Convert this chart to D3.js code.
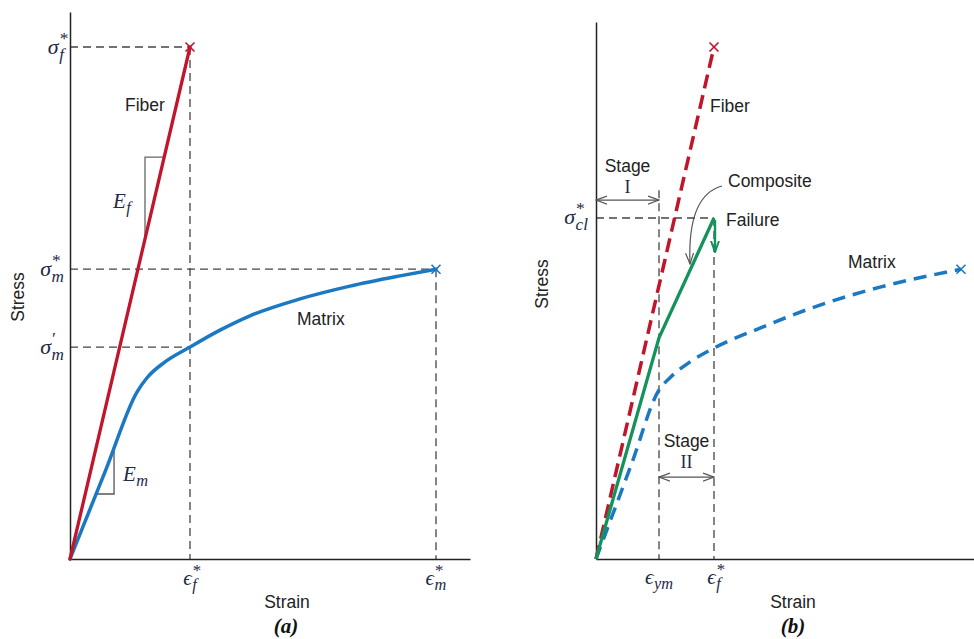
<!DOCTYPE html>
<html><head><meta charset="utf-8">
<script src="https://cdn.jsdelivr.net/npm/d3@7"></script>
<style>
body{margin:0;background:#fff;}
svg{display:block;}
.sans{font-family:"Liberation Sans",Arial,sans-serif;fill:#222;}
.math{font-family:"Liberation Serif","DejaVu Serif",serif;font-style:italic;fill:#1e2a48;}
</style></head>
<body>
<svg id="c" width="974" height="639"></svg>
<script>
// ---------- data (strain in units of eps_f*, stress in units of sigma_f*) ----------
const fiberA = [[0,0],[1,1]];
const matrixA = [[0,0],[0.3,0.175],[0.558,0.326],[0.642,0.354],[0.792,0.385],[1.0,0.414],[1.25,0.447],[1.5,0.475],[1.917,0.508],[2.333,0.533],[2.75,0.553],[3.05,0.566]];
const stressTicksA = [{v:1.0,base:"σ",sub:"f",sup:"*"},{v:0.566,base:"σ",sub:"m",sup:"*"},{v:0.414,base:"σ",sub:"m",sup:"′"}];
const strainTicksA = [{v:1.0,base:"ϵ",sub:"f",sup:"*"},{v:3.05,base:"ϵ",sub:"m",sup:"*"}];
const slopeTriF = {strain:0.625, stress:0.785};
const slopeTriM = {strain:0.367, stress:0.127};

const fiberB = [[0,0],[1,1]];
const matrixB = [[0,0],[0.3,0.185],[0.534,0.330],[0.627,0.354],[0.797,0.385],[1.0,0.412],[1.39,0.451],[1.898,0.496],[2.407,0.531],[3.093,0.566]];
const compositeB = [[0,0],[0.534,0.432],[1.0,0.666]];
const stressTicksB = [{v:0.666,base:"σ",sub:"cl",sup:"*"}];
const strainTicksB = [{v:0.534,base:"ϵ",sub:"ym",sup:""},{v:1.0,base:"ϵ",sub:"f",sup:"*"}];
const stageI = {from:0, to:0.534, stress:0.701, top:0.72};
const stageII = {from:0.534, to:1.0, stress:0.16};

// ---------- scales ----------
const y = d3.scaleLinear().domain([0,1]).range([559,47]);
const xA = d3.scaleLinear().domain([0,1]).range([70,190]);
const xB = d3.scaleLinear().domain([0,1]).range([596,714]);

const svg = d3.select("#c");
const RED="#c0152a", BLUE="#1b78c2", GREEN="#14925c", GUIDE="#444";

const defs = svg.append("defs");
function chevron(id,color,w){
  defs.append("marker").attr("id",id).attr("viewBox","0 0 12 10").attr("refX",11).attr("refY",5)
   .attr("markerWidth",12).attr("markerHeight",10).attr("markerUnits","userSpaceOnUse").attr("orient","auto-start-reverse")
   .append("path").attr("d","M0,1 L11,5 L0,9").attr("fill","none").attr("stroke",color).attr("stroke-width",w);
}
chevron("arrG","#555",1.2);
chevron("arrGreen",GREEN,2);

function guide(x1,y1,x2,y2){
  svg.append("line").attr("x1",x1).attr("y1",y1).attr("x2",x2).attr("y2",y2)
    .attr("stroke",GUIDE).attr("stroke-width",1.3).attr("stroke-dasharray","8,5");
}
function xmark(px,py,color){
  const s=4.5;
  svg.append("path").attr("d",`M${px-s},${py-s}L${px+s},${py+s}M${px-s},${py+s}L${px+s},${py-s}`)
    .attr("stroke",color).attr("stroke-width",1.6).attr("fill","none");
}
// one text element per label: base + subscript + superscript (placed above the subscript)
function mathLabel(t,x,yy,align,size){
  size=size||21;
  const tmp=svg.append("text").attr("class","math").attr("font-size",size).text(t.base);
  const w=tmp.node().getComputedTextLength(); tmp.remove();
  const tmp2=svg.append("text").attr("class","math").attr("font-size",size*0.78).text(t.sub);
  const sw=tmp2.node().getComputedTextLength(); tmp2.remove();
  const total=w+0.5+sw;
  const ox = align==="end"? x-total : align==="middle"? x-total/2 : x;
  const tx=svg.append("text").attr("class","math").attr("x",ox).attr("y",yy);
  tx.append("tspan").attr("font-size",size).text(t.base);
  tx.append("tspan").attr("font-size",size*0.78).attr("x",ox+w+0.5).attr("y",yy+size*0.25).text(t.sub);
  if(t.sup) tx.append("tspan").attr("font-size",size*0.8).attr("font-style","normal")
     .attr("x",ox+w+1).attr("y",yy-size*0.45).text(t.sup);
}
function sans(t,x,yy,anchor,size){
  return svg.append("text").attr("class","sans").attr("x",x).attr("y",yy).attr("text-anchor",anchor||"start")
   .attr("font-size",size||17.5).text(t);
}

const lineA = d3.line().x(d=>xA(d[0])).y(d=>y(d[1]));
const lineAc = d3.line().x(d=>xA(d[0])).y(d=>y(d[1])).curve(d3.curveMonotoneX);
const lineB = d3.line().x(d=>xB(d[0])).y(d=>y(d[1]));
const lineBc = d3.line().x(d=>xB(d[0])).y(d=>y(d[1])).curve(d3.curveMonotoneX);

// ================= panel (a) =================
guide(xA(0),y(1),xA(1),y(1));
guide(xA(1),y(1),xA(1),y(0));
guide(xA(0),y(0.566),xA(3.05),y(0.566));
guide(xA(3.05),y(0.566),xA(3.05),y(0));
guide(xA(0),y(0.414),xA(1),y(0.414));

svg.append("g").attr("transform",`translate(${xA(0)},0)`)
  .call(d3.axisLeft(d3.scaleLinear().domain([0,1.068]).range([559,12])).tickValues([]).tickSizeOuter(0))
  .select(".domain").attr("stroke","#222").attr("stroke-width",1.5);
svg.append("g").attr("transform",`translate(0,${y(0)})`)
  .call(d3.axisBottom(d3.scaleLinear().domain([0,3.333]).range([70,470])).tickValues([]).tickSizeOuter(0))
  .select(".domain").attr("stroke","#222").attr("stroke-width",1.5);

svg.append("path").attr("d",`M${xA(slopeTriF.strain)},${y(slopeTriF.strain)}L${xA(slopeTriF.strain)},${y(slopeTriF.stress)}L${xA(slopeTriF.stress)},${y(slopeTriF.stress)}`)
  .attr("fill","none").attr("stroke","#666").attr("stroke-width",1.3);
const mSlope = matrixA[2][1]/matrixA[2][0];
svg.append("path").attr("d",`M${xA(slopeTriM.stress/mSlope)},${y(slopeTriM.stress)}L${xA(slopeTriM.strain)},${y(slopeTriM.stress)}L${xA(slopeTriM.strain)},${y(slopeTriM.strain*mSlope)}`)
  .attr("fill","none").attr("stroke","#555").attr("stroke-width",1.3);

svg.append("path").attr("d",lineAc(matrixA)).attr("fill","none").attr("stroke",BLUE).attr("stroke-width",3.5).attr("stroke-linecap","round");
svg.append("path").attr("d",lineA(fiberA)).attr("fill","none").attr("stroke",RED).attr("stroke-width",3.3).attr("stroke-linecap","round");
xmark(xA(1),y(1),RED);
xmark(xA(3.05),y(0.566),BLUE);

stressTicksA.forEach(t=>mathLabel(t,64,y(t.v)+7,"end",22));
strainTicksA.forEach(t=>mathLabel(t,xA(t.v),585,"middle",21));
mathLabel({base:"E",sub:"f",sup:""},113,208,"start",21);
mathLabel({base:"E",sub:"m",sup:""},123,481,"start",21);
sans("Fiber",125,111);
sans("Matrix",297,325);
sans("Stress",0,0,"middle").attr("transform","translate(24,297) rotate(-90)");
sans("Strain",287,608,"middle");
svg.append("text").attr("x",286).attr("y",633).attr("text-anchor","middle")
  .attr("font-family","Liberation Serif,serif").attr("font-style","italic").attr("font-weight","bold")
  .attr("font-size",21).attr("fill","#111").text("(a)");

// ================= panel (b) =================
guide(xB(0),y(stressTicksB[0].v),xB(1),y(stressTicksB[0].v));
guide(xB(1),y(stressTicksB[0].v),xB(1),y(0));
guide(xB(stageI.to),y(stageI.top),xB(stageI.to),y(0));

svg.append("g").attr("transform",`translate(${xB(0)},0)`)
  .call(d3.axisLeft(d3.scaleLinear().domain([0,1.049]).range([559,22])).tickValues([]).tickSizeOuter(0))
  .select(".domain").attr("stroke","#222").attr("stroke-width",1.5);
svg.append("g").attr("transform",`translate(0,${y(0)})`)
  .call(d3.axisBottom(d3.scaleLinear().domain([0,3.203]).range([596,974])).tickValues([]).tickSizeOuter(0))
  .select(".domain").attr("stroke","#222").attr("stroke-width",1.5);

svg.append("path").attr("d",lineBc(matrixB)).attr("fill","none").attr("stroke",BLUE).attr("stroke-width",3.5).attr("stroke-dasharray","13,8");
svg.append("path").attr("d",lineB(fiberB)).attr("fill","none").attr("stroke",RED).attr("stroke-width",3.5).attr("stroke-dasharray","14,7");
svg.append("path").attr("d",lineB(compositeB)).attr("fill","none").attr("stroke",GREEN).attr("stroke-width",3.3).attr("stroke-linejoin","miter");
xmark(xB(1),y(1),RED);
xmark(xB(3.093),y(0.566),BLUE);

svg.append("line").attr("x1",xB(1)+1).attr("y1",y(0.666)+2).attr("x2",xB(1)+1).attr("y2",y(0.666)+34)
  .attr("stroke",GREEN).attr("stroke-width",2.4).attr("marker-end","url(#arrGreen)");

svg.append("line").attr("x1",xB(stageI.from)).attr("y1",y(stageI.stress)).attr("x2",xB(stageI.to)).attr("y2",y(stageI.stress))
  .attr("stroke","#555").attr("stroke-width",1.2).attr("marker-start","url(#arrG)").attr("marker-end","url(#arrG)");
svg.append("line").attr("x1",xB(stageII.from)).attr("y1",y(stageII.stress)).attr("x2",xB(stageII.to)).attr("y2",y(stageII.stress))
  .attr("stroke","#555").attr("stroke-width",1.2).attr("marker-start","url(#arrG)").attr("marker-end","url(#arrG)");

svg.append("path").attr("d","M722,186 C700,192 688,215 690,264").attr("fill","none")
  .attr("stroke","#555").attr("stroke-width",1.2).attr("marker-end","url(#arrG)");

stressTicksB.forEach(t=>mathLabel(t,588,y(t.v)+6,"end",22));
strainTicksB.forEach(t=>mathLabel(t,xB(t.v),584,"middle",21));
sans("Stage",(xB(stageI.from)+xB(stageI.to))/2,172,"middle");
svg.append("text").attr("x",(xB(stageI.from)+xB(stageI.to))/2).attr("y",193).attr("text-anchor","middle")
  .attr("font-family","Liberation Serif,serif").attr("font-size",18).attr("fill","#1e2a48").text("I");
sans("Stage",(xB(stageII.from)+xB(stageII.to))/2,447,"middle");
svg.append("text").attr("x",(xB(stageII.from)+xB(stageII.to))/2).attr("y",468).attr("text-anchor","middle")
  .attr("font-family","Liberation Serif,serif").attr("font-size",18).attr("fill","#1e2a48").text("II");
sans("Composite",728,187);
sans("Failure",726,226);
sans("Fiber",710,112);
sans("Matrix",848,268);
sans("Stress",0,0,"middle").attr("transform","translate(548,284) rotate(-90)");
sans("Strain",793,608,"middle");
svg.append("text").attr("x",793).attr("y",633).attr("text-anchor","middle")
  .attr("font-family","Liberation Serif,serif").attr("font-style","italic").attr("font-weight","bold")
  .attr("font-size",21).attr("fill","#111").text("(b)");
</script>
</body></html>
